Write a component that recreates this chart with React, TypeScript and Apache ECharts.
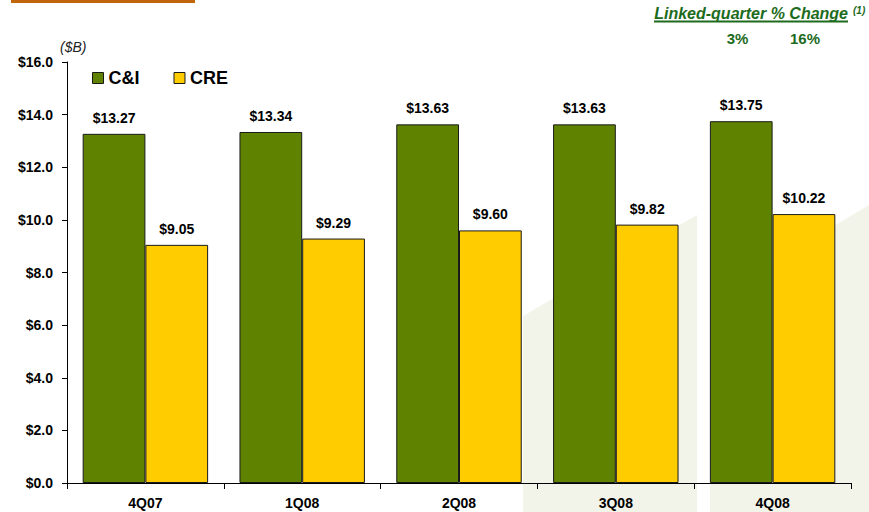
import React, { useEffect, useRef } from "react";
import * as echarts from "echarts";

const categories = ["4Q07", "1Q08", "2Q08", "3Q08", "4Q08"];
const ciValues = [13.27, 13.34, 13.63, 13.63, 13.75];
const creValues = [9.05, 9.29, 9.6, 9.82, 10.22];
const seriesNames = ["C&I", "CRE"];
const changeTitle = "Linked-quarter % Change";
const changeValues = ["3%", "16%"];

const FONT = "Liberation Sans, Arial, sans-serif";
const WM = "#f2f3e9";
const GREEN_TXT = "#1d6b1d";

export default function App() {
  const ref = useRef<HTMLDivElement>(null);
  useEffect(() => {
    if (!ref.current) return;
    const chart = echarts.init(ref.current, null, { renderer: "svg" });
    const labelStyle = {
      show: true,
      position: "top" as const,
      distance: 9,
      fontFamily: FONT,
      fontWeight: "bold" as const,
      fontSize: 14,
      color: "#000",
      formatter: (p: any) => "$" + Number(p.value).toFixed(2),
    };
    chart.setOption({
      animation: false,
      backgroundColor: "#fff",
      textStyle: { fontFamily: FONT },
      grid: { left: 67, top: 62, right: 18, bottom: 29, containLabel: false },
      legend: {
        left: 87,
        top: 64,
        icon: "rect",
        itemWidth: 11,
        itemHeight: 11,
        itemGap: 34,
        itemStyle: { borderColor: "#1a1a1a", borderWidth: 1 },
        textStyle: { fontFamily: FONT, fontSize: 18, fontWeight: "bold", color: "#000" },
        data: seriesNames,
      },
      xAxis: {
        type: "category",
        data: categories,
        axisLine: { lineStyle: { color: "#000", width: 1 } },
        axisTick: { show: true, length: 6, lineStyle: { color: "#000" } },
        axisLabel: { fontFamily: FONT, fontWeight: "bold", fontSize: 14, color: "#000", margin: 13 },
      },
      yAxis: {
        type: "value",
        min: 0,
        max: 16,
        interval: 2,
        axisLine: { show: true, lineStyle: { color: "#000", width: 1 } },
        axisTick: { show: true, length: 5, lineStyle: { color: "#000" } },
        splitLine: { show: false },
        axisLabel: {
          fontFamily: FONT,
          fontWeight: "bold",
          fontSize: 14,
          color: "#000",
          margin: 14,
          formatter: (v: number) => "$" + v.toFixed(1),
        },
      },
      graphic: [
        { type: "polygon", z: -10, silent: true, shape: { points: [[523, 316], [697, 215], [697, 512], [523, 512]] }, style: { fill: WM } },
        { type: "polygon", z: -10, silent: true, shape: { points: [[710, 300], [869, 205], [869, 512], [710, 512]] }, style: { fill: WM } },
        { type: "rect", shape: { x: 11, y: 0, width: 184, height: 3 }, style: { fill: "#c0650b" } },
        {
          type: "text",
          x: 60,
          y: 47,
          style: { text: "($B)", fontFamily: FONT, fontStyle: "italic", fontSize: 14, fill: "#222", verticalAlign: "middle" },
        },
        {
          type: "text",
          x: 848,
          y: 13,
          style: {
            text: changeTitle,
            fontFamily: FONT,
            fontStyle: "italic",
            fontWeight: "bold",
            fontSize: 16,
            fill: GREEN_TXT,
            align: "right",
            verticalAlign: "middle",
          },
        },
        { type: "line", shape: { x1: 654, y1: 21.5, x2: 848, y2: 21.5 }, style: { stroke: GREEN_TXT, lineWidth: 2 } },
        {
          type: "text",
          x: 853,
          y: 10,
          style: { text: "(1)", fontFamily: FONT, fontStyle: "italic", fontWeight: "bold", fontSize: 10, fill: GREEN_TXT, verticalAlign: "middle" },
        },
        {
          type: "text",
          x: 737.5,
          y: 38.5,
          style: { text: changeValues[0], fontFamily: FONT, fontWeight: "bold", fontSize: 15, fill: GREEN_TXT, align: "center", verticalAlign: "middle" },
        },
        {
          type: "text",
          x: 805,
          y: 38.5,
          style: { text: changeValues[1], fontFamily: FONT, fontWeight: "bold", fontSize: 15, fill: GREEN_TXT, align: "center", verticalAlign: "middle" },
        },
      ],
      series: [
        {
          name: seriesNames[0],
          type: "bar",
          data: ciValues,
          barGap: "0%",
          barCategoryGap: "20%",
          itemStyle: { color: "#5f8200", borderColor: "#1a1a1a", borderWidth: 1 },
          label: labelStyle,
        },
        {
          name: seriesNames[1],
          type: "bar",
          data: creValues,
          barGap: "0%",
          barCategoryGap: "20%",
          itemStyle: { color: "#ffcc00", borderColor: "#1a1a1a", borderWidth: 1 },
          label: labelStyle,
        },
      ],
    });
    return () => chart.dispose();
  }, []);
  return <div ref={ref} style={{ width: 869, height: 512, position: "absolute", left: 0, top: 0 }} />;
}
